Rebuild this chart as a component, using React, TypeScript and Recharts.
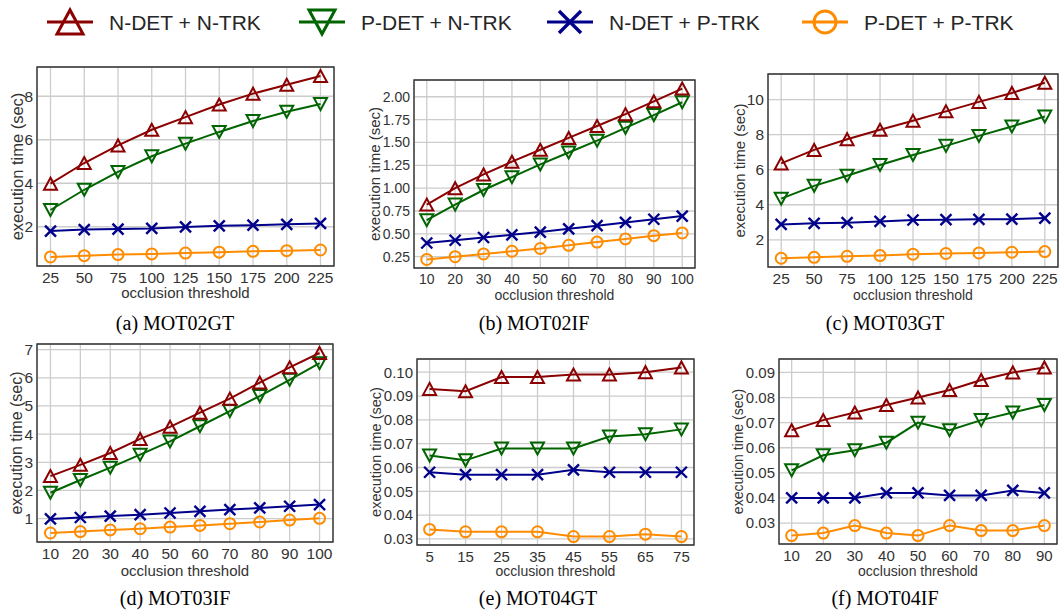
import React from 'react';
import { LineChart, Line, XAxis, YAxis, CartesianGrid, ReferenceArea, Label } from 'recharts';

const seriesNames = ['N-DET + N-TRK', 'P-DET + N-TRK', 'N-DET + P-TRK', 'P-DET + P-TRK'];
const seriesColors = ['#8b0000', '#006400', '#00008b', '#ff8c00'];
const seriesMarkers = ['up', 'down', 'x', 'o'];

// (a) MOT02GT
const xA = [25, 50, 75, 100, 125, 150, 175, 200, 225];
const nnA = [3.98, 4.93, 5.74, 6.46, 7.04, 7.62, 8.12, 8.53, 8.93];
const pnA = [2.77, 3.7, 4.52, 5.24, 5.82, 6.36, 6.86, 7.29, 7.64];
const npA = [1.8, 1.87, 1.89, 1.92, 1.99, 2.04, 2.07, 2.11, 2.15];
const ppA = [0.61, 0.67, 0.72, 0.75, 0.79, 0.83, 0.87, 0.9, 0.93];
const yTicksA = [2, 4, 6, 8];

// (b) MOT02IF
const xB = [10, 20, 30, 40, 50, 60, 70, 80, 90, 100];
const nnB = [0.82, 1.0, 1.15, 1.29, 1.42, 1.55, 1.68, 1.81, 1.95, 2.09];
const pnB = [0.65, 0.82, 0.98, 1.12, 1.26, 1.39, 1.52, 1.66, 1.8, 1.94];
const npB = [0.4, 0.43, 0.46, 0.49, 0.52, 0.555, 0.59, 0.625, 0.66, 0.695];
const ppB = [0.22, 0.25, 0.28, 0.31, 0.34, 0.375, 0.41, 0.445, 0.48, 0.51];
const yTicksB = [0.25, 0.5, 0.75, 1.0, 1.25, 1.5, 1.75, 2.0];

// (c) MOT03GT
const xC = [25, 50, 75, 100, 125, 150, 175, 200, 225];
const nnC = [6.36, 7.13, 7.74, 8.28, 8.79, 9.33, 9.87, 10.38, 10.96];
const pnC = [4.35, 5.08, 5.66, 6.27, 6.84, 7.36, 7.93, 8.47, 9.04];
const npC = [2.88, 2.94, 2.98, 3.05, 3.13, 3.15, 3.17, 3.18, 3.24];
const ppC = [0.95, 1.0, 1.06, 1.1, 1.18, 1.22, 1.25, 1.29, 1.33];
const yTicksC = [2, 4, 6, 8, 10];

// (d) MOT03IF
const xD = [10, 20, 30, 40, 50, 60, 70, 80, 90, 100];
const nnD = [2.51, 2.91, 3.33, 3.83, 4.26, 4.76, 5.26, 5.83, 6.37, 6.88];
const pnD = [1.92, 2.37, 2.81, 3.27, 3.74, 4.28, 4.82, 5.35, 5.93, 6.52];
const npD = [0.99, 1.04, 1.09, 1.14, 1.2, 1.26, 1.32, 1.38, 1.44, 1.5];
const ppD = [0.49, 0.54, 0.6, 0.64, 0.7, 0.76, 0.82, 0.88, 0.95, 1.01];
const yTicksD = [1, 2, 3, 4, 5, 6, 7];

// (e) MOT04GT
const xE = [5, 15, 25, 35, 45, 55, 65, 75];
const nnE = [0.093, 0.092, 0.098, 0.098, 0.099, 0.099, 0.1, 0.102];
const pnE = [0.065, 0.063, 0.068, 0.068, 0.068, 0.073, 0.074, 0.076];
const npE = [0.058, 0.057, 0.057, 0.057, 0.059, 0.058, 0.058, 0.058];
const ppE = [0.034, 0.033, 0.033, 0.033, 0.031, 0.031, 0.032, 0.031];
const yTicksE = [0.03, 0.04, 0.05, 0.06, 0.07, 0.08, 0.09, 0.1];

// (f) MOT04IF
const xF = [10, 20, 30, 40, 50, 60, 70, 80, 90];
const nnF = [0.067, 0.071, 0.074, 0.077, 0.08, 0.083, 0.087, 0.09, 0.092];
const pnF = [0.051, 0.057, 0.059, 0.062, 0.07, 0.067, 0.071, 0.074, 0.077];
const npF = [0.04, 0.04, 0.04, 0.042, 0.042, 0.041, 0.041, 0.043, 0.042];
const ppF = [0.025, 0.026, 0.029, 0.026, 0.025, 0.029, 0.027, 0.027, 0.029];
const yTicksF = [0.03, 0.04, 0.05, 0.06, 0.07, 0.08, 0.09];

const FONT = '"Liberation Sans", Arial, Helvetica, sans-serif';
const TEXT = '#333333';

const Marker = ({ kind, cx, cy, color, s = 1, sw = 2 }: any) => {
  if (cx == null || cy == null) return null;
  if (kind === 'up') {
    const p = `${cx},${cy - 6 * s} ${cx - 6.5 * s},${cy + 6 * s} ${cx + 6.5 * s},${cy + 6 * s}`;
    return <polygon points={p} fill="none" stroke={color} strokeWidth={sw} />;
  }
  if (kind === 'down') {
    const p = `${cx},${cy + 6 * s} ${cx - 6.5 * s},${cy - 6 * s} ${cx + 6.5 * s},${cy - 6 * s}`;
    return <polygon points={p} fill="none" stroke={color} strokeWidth={sw} />;
  }
  if (kind === 'x') {
    const d = 5.5 * s;
    return (
      <g stroke={color} strokeWidth={sw + 0.4}>
        <line x1={cx - d} y1={cy - d} x2={cx + d} y2={cy + d} />
        <line x1={cx - d} y1={cy + d} x2={cx + d} y2={cy - d} />
      </g>
    );
  }
  return <ellipse cx={cx} cy={cy} rx={5.5 * s} ry={5.5 * s} fill="none" stroke={color} strokeWidth={sw} />;
};

// matplotlib-style 5% margin around the data range
const pad = (arr: number[]) => {
  const lo = Math.min(...arr);
  const hi = Math.max(...arr);
  const m = (hi - lo) * 0.05;
  return [lo - m, hi + m];
};

interface PanelProps {
  caption: string;
  xs: number[];
  series: number[][];
  yTicks: number[];
  decimals: number;
  box: { l: number; r: number; t: number; b: number };
  yLabelX: number;
  xLabelY: number;
  capX: number;
  capY: number;
  tickFs: number;
  xLabelFs: number;
  yLabelFs: number;
}

const Panel = ({ caption, xs, series, yTicks, decimals, box, yLabelX, xLabelY, capX, capY, tickFs, xLabelFs, yLabelFs }: PanelProps) => {
  const data = xs.map((x, i) => ({ x, s0: series[0][i], s1: series[1][i], s2: series[2][i], s3: series[3][i] }));
  const xDom = pad(xs);
  const yDom = pad(series.flat());
  const chartLeft = yLabelX - 12;
  const chartTop = box.t - 10;
  const width = box.r + 8 - chartLeft;
  const yAxisW = box.l - chartLeft;
  const xAxisH = xLabelY + 12 - box.b;
  const height = 10 + (box.b - box.t) + xAxisH;

  const xLabel = (p: any) => {
    const vb = p.viewBox || {};
    return (
      <text x={vb.x + vb.width / 2} y={vb.y + vb.height - 4} textAnchor="middle" fontSize={xLabelFs} fill={TEXT}>
        occlusion threshold
      </text>
    );
  };
  const yLabel = (p: any) => {
    const vb = p.viewBox || {};
    const cx = vb.x + 12;
    const cy = vb.y + vb.height / 2;
    return (
      <text x={cx} y={cy} dy="0.36em" textAnchor="middle" fontSize={yLabelFs} fill={TEXT} transform={`rotate(-90, ${cx}, ${cy})`}>
        execution time (sec)
      </text>
    );
  };

  return (
    <>
      <div style={{ position: 'absolute', left: chartLeft, top: chartTop, width, height, fontFamily: FONT }}>
        <LineChart width={width} height={height} data={data} margin={{ top: 10, right: 8, left: 0, bottom: 0 }}>
          <CartesianGrid stroke="#cccccc" strokeWidth={1.3} />
          <XAxis
            dataKey="x"
            type="number"
            domain={xDom}
            ticks={xs}
            interval={0}
            allowDataOverflow
            height={xAxisH}
            axisLine={false}
            tickLine={false}
            tickSize={0}
            tickMargin={6}
            tick={{ fill: TEXT, fontSize: tickFs }}
          >
            <Label content={xLabel} />
          </XAxis>
          <YAxis
            type="number"
            domain={yDom}
            ticks={yTicks}
            interval={0}
            allowDataOverflow
            width={yAxisW}
            axisLine={false}
            tickLine={false}
            tickSize={0}
            tickMargin={4}
            tickFormatter={(v: number) => v.toFixed(decimals)}
            tick={{ fill: TEXT, fontSize: tickFs }}
          >
            <Label content={yLabel} />
          </YAxis>
          <ReferenceArea x1={xDom[0]} x2={xDom[1]} y1={yDom[0]} y2={yDom[1]} fill="none" stroke="#333333" strokeWidth={1.4} ifOverflow="visible" />
          {[3, 2, 1, 0].map((k) => (
            <Line
              key={k}
              dataKey={`s${k}`}
              stroke={seriesColors[k]}
              strokeWidth={2}
              isAnimationActive={false}
              dot={(p: any) => <Marker key={`d${k}-${p.index}`} kind={seriesMarkers[k]} cx={p.cx} cy={p.cy} color={seriesColors[k]} />}
              activeDot={false}
            />
          ))}
        </LineChart>
      </div>
      <div
        style={{
          position: 'absolute',
          left: capX - 110,
          width: 220,
          top: capY - 12,
          lineHeight: '24px',
          textAlign: 'center',
          fontFamily: '"Liberation Serif", "Times New Roman", serif',
          fontSize: 20,
          color: '#000',
        }}
      >
        {caption}
      </div>
    </>
  );
};

const legendX = [70, 322, 570, 825];

const LegendRow = () => (
  <svg width={1062} height={46} style={{ position: 'absolute', left: 0, top: 0, fontFamily: FONT }}>
    {seriesNames.map((name, k) => (
      <g key={name}>
        <line x1={legendX[k] - 23} x2={legendX[k] + 23} y1={22} y2={22} stroke={seriesColors[k]} strokeWidth={3} />
        <Marker kind={seriesMarkers[k]} cx={legendX[k]} cy={22} color={seriesColors[k]} s={2} sw={3} />
        <text x={legendX[k] + 39} y={22} dy="0.36em" fontSize={21} fill="#262626">
          {name}
        </text>
      </g>
    ))}
  </svg>
);

export default function App() {
  return (
    <div style={{ position: 'absolute', left: 0, top: 0, width: 1062, height: 611, background: '#fff' }}>
      <LegendRow />
      <Panel caption="(a) MOT02GT" xs={xA} series={[nnA, pnA, npA, ppA]} yTicks={yTicksA} decimals={0}
        box={{ l: 37, r: 334, t: 67, b: 266 }} yLabelX={17} xLabelY={290} capX={175} capY={323} tickFs={15.5} xLabelFs={15} yLabelFs={16.5} />
      <Panel caption="(b) MOT02IF" xs={xB} series={[nnB, pnB, npB, ppB]} yTicks={yTicksB} decimals={2}
        box={{ l: 414, r: 695, t: 80, b: 268 }} yLabelX={375} xLabelY={292} capX={534} capY={323} tickFs={14} xLabelFs={14} yLabelFs={15} />
      <Panel caption="(c) MOT03GT" xs={xC} series={[nnC, pnC, npC, ppC]} yTicks={yTicksC} decimals={0}
        box={{ l: 768, r: 1058, t: 74, b: 267 }} yLabelX={740} xLabelY={292} capX={885} capY={323} tickFs={15.5} xLabelFs={14} yLabelFs={15} />
      <Panel caption="(d) MOT03IF" xs={xD} series={[nnD, pnD, npD, ppD]} yTicks={yTicksD} decimals={0}
        box={{ l: 37, r: 333, t: 344, b: 542 }} yLabelX={16} xLabelY={568} capX={175} capY={598} tickFs={15.5} xLabelFs={15} yLabelFs={16} />
      <Panel caption="(e) MOT04GT" xs={xE} series={[nnE, pnE, npE, ppE]} yTicks={yTicksE} decimals={2}
        box={{ l: 417, r: 694, t: 359, b: 545 }} yLabelX={376} xLabelY={568} capX={538} capY={598} tickFs={15} xLabelFs={14} yLabelFs={14.5} />
      <Panel caption="(f) MOT04IF" xs={xF} series={[nnF, pnF, npF, ppF]} yTicks={yTicksF} decimals={2}
        box={{ l: 779, r: 1057, t: 359, b: 544 }} yLabelX={738} xLabelY={568} capX={885} capY={598} tickFs={15} xLabelFs={14} yLabelFs={14} />
    </div>
  );
}
